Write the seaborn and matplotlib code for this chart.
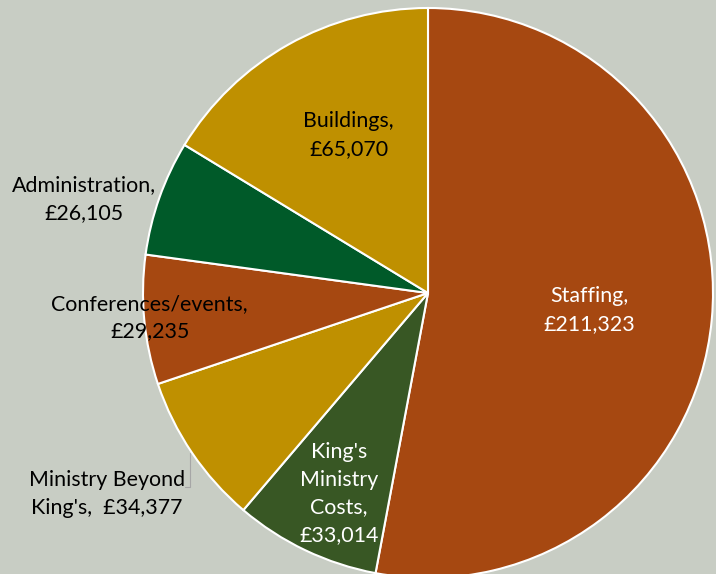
import numpy as np
import matplotlib
matplotlib.use("Agg")
import matplotlib.pyplot as plt
import seaborn as sns

categories = ["Staffing", "King's\nMinistry\nCosts", "Ministry Beyond\nKing's, ", "Conferences/events", "Administration", "Buildings"]
amounts = [211323, 33014, 34377, 29235, 26105, 65070]
colours = ["#A64811", "#385724", "#BF9000", "#A64811", "#005A29", "#BF9000"]
text_colours = ["white", "white", "black", "black", "black", "black"]
# where each label sits: distance from centre (radius units) and angle nudge (deg)
label_dist = [0.57, 0.77, 1.33, 0.98, 1.25, 0.62]
label_nudge = [-0.7, 1.5, -2.1, -0.4, 4.2, -2.7]

sns.set_theme(style="white")
plt.rcParams["font.family"] = ["Lato", "DejaVu Sans"]

W, H = 716, 574
cx, cy, R = 428, 293, 285

fig = plt.figure(figsize=(W / 100, H / 100), dpi=100)
fig.patch.set_facecolor("#C8CDC4")
ax = fig.add_axes([0, 0, 1, 1])
ax.set_facecolor("#C8CDC4")

wedges, _ = ax.pie(amounts, colors=colours, startangle=90, counterclock=False,
                   radius=1, wedgeprops=dict(edgecolor="white", linewidth=1.5))

for w, name, val, tc, d, nd in zip(wedges, categories, amounts, text_colours, label_dist, label_nudge):
    mid = np.deg2rad((w.theta1 + w.theta2) / 2 + nd)
    x, y = d * np.cos(mid), d * np.sin(mid)
    if name.endswith(", "):
        txt = f"{name} £{val:,}"
    else:
        txt = f"{name},\n£{val:,}"
    ax.text(x, y, txt, ha="center", va="center", color=tc, fontsize=15.4,
            linespacing=1.48)

# leader line for the Ministry Beyond King's label
def px(x, y):
    return (x - cx) / R, (cy - y) / R

p = [px(190, 453), px(190, 487), px(185, 487)]
ax.plot([q[0] for q in p], [q[1] for q in p], color="#A6A6A6", lw=0.8)

ax.set_xlim(-cx / R, (W - cx) / R)
ax.set_ylim(-(H - cy) / R, cy / R)
ax.set_aspect("equal")
ax.axis("off")

fig.savefig("out.png", dpi=100, facecolor=fig.get_facecolor())
